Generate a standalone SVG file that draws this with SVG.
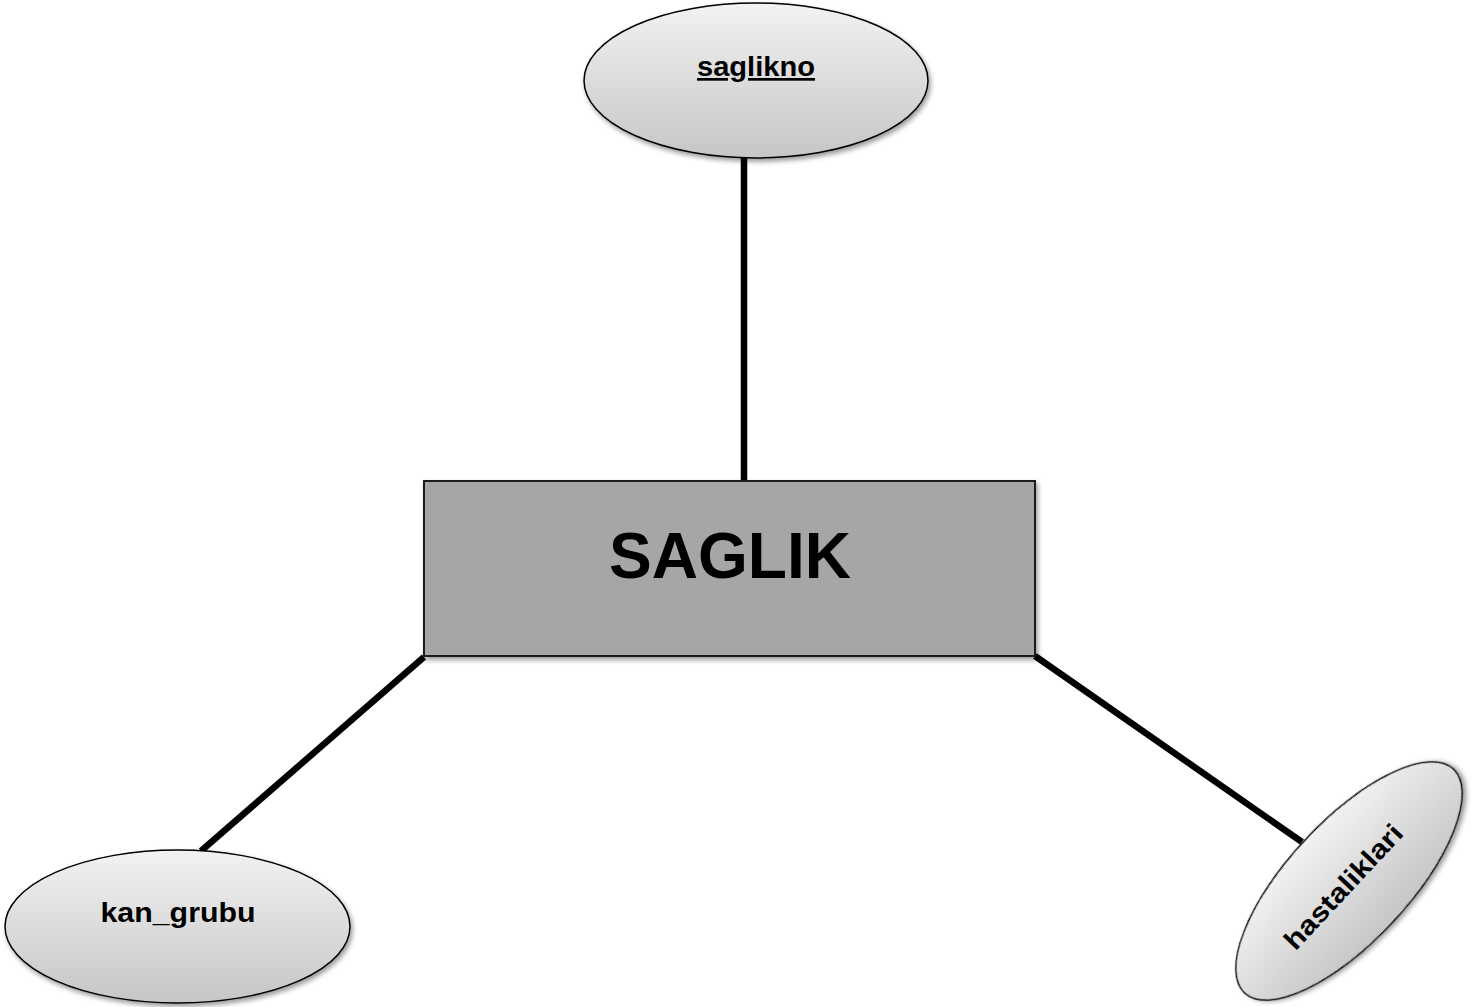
<svg xmlns="http://www.w3.org/2000/svg" width="1474" height="1007" viewBox="0 0 1474 1007">
<defs>
<linearGradient id="eg" x1="0" y1="0" x2="0" y2="1">
<stop offset="0" stop-color="#f2f2f2"/>
<stop offset="1" stop-color="#c6c6c6"/>
</linearGradient>
<filter id="sh" x="-10%" y="-10%" width="125%" height="125%">
<feGaussianBlur in="SourceAlpha" stdDeviation="2.5"/>
<feOffset dx="2" dy="3" result="b"/>
<feComponentTransfer><feFuncA type="linear" slope="0.4"/></feComponentTransfer>
<feMerge><feMergeNode/><feMergeNode in="SourceGraphic"/></feMerge>
</filter>
</defs>
<style>
.attr{fill:url(#eg);stroke:#000;stroke-width:1.5;filter:url(#sh)}
.ent{fill:#a6a6a6;stroke:#1a1a1a;stroke-width:2;filter:url(#sh)}
.conn{stroke:#000;stroke-width:6.5;fill:none}
.lbl{font-family:"Liberation Sans",Arial,sans-serif;font-weight:bold;fill:#000;text-anchor:middle}
</style>
<rect width="1474" height="1007" fill="#fff"/>
<g id="connectors">
<line class="conn" x1="744" y1="156" x2="744" y2="482"/>
<line class="conn" x1="424" y1="657" x2="201" y2="851"/>
<line class="conn" x1="1035" y1="656" x2="1302" y2="842"/>
</g>
<g id="saglik">
<rect class="ent" x="424" y="481" width="611" height="175"/>
<text class="lbl" x="730" y="578" font-size="64" textLength="242" lengthAdjust="spacingAndGlyphs">SAGLIK</text>
</g>
<g id="saglikno">
<ellipse class="attr" cx="756" cy="80.5" rx="172" ry="77.5"/>
<text class="lbl" x="756" y="76" font-size="27" textLength="118" lengthAdjust="spacingAndGlyphs" text-decoration="underline">saglikno</text>
</g>
<g id="kan_grubu">
<ellipse class="attr" cx="177.5" cy="926.5" rx="172.5" ry="76.5"/>
<text class="lbl" x="178" y="922" font-size="27" textLength="155" lengthAdjust="spacingAndGlyphs">kan_grubu</text>
</g>
<g id="hastaliklari">
<g transform="translate(1349,881) rotate(-47)">
<ellipse class="attr" cx="0" cy="0" rx="153" ry="60"/>
<text class="lbl" x="-8" y="9" font-size="27" textLength="160" lengthAdjust="spacingAndGlyphs">hastaliklari</text>
</g>
</g>
</svg>
